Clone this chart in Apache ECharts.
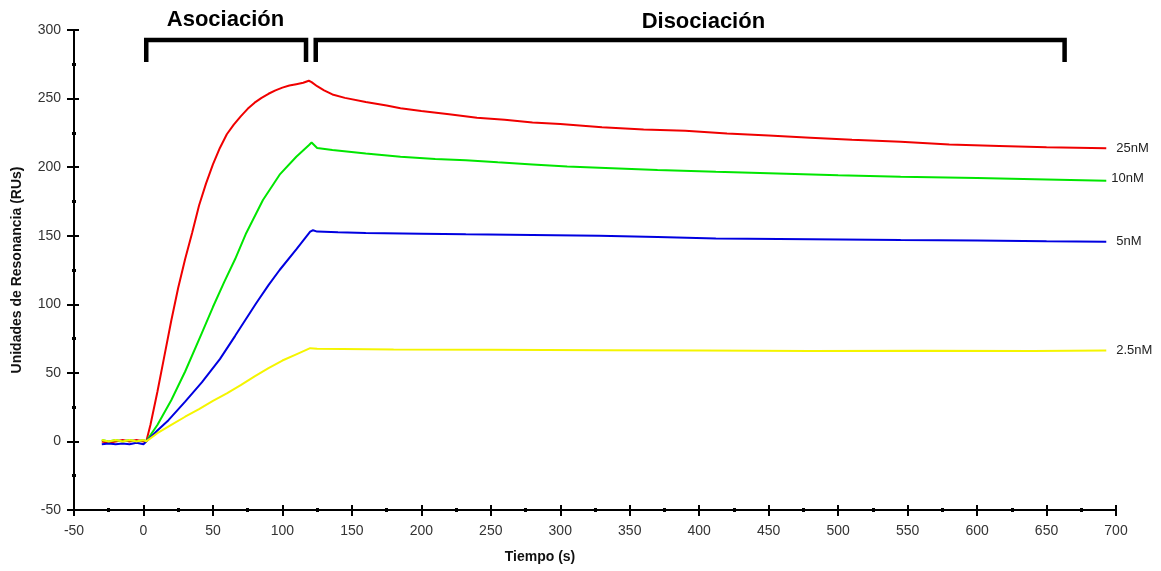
<!DOCTYPE html>
<html>
<head>
    <meta charset="UTF-8">
    <title>Sensorgrama</title>
    <script src="https://cdn.jsdelivr.net/npm/echarts@6/dist/echarts.min.js"></script>
    <style>
        html, body { margin: 0; padding: 0; background: #fff; }
    </style>
</head>
<body>
    <div id="main" style="width:1161px;height:571px;"></div>
    <script>
        var seriesNames = ['25nM', '10nM', '5nM', '2.5nM'];

        var red25 = [
            [-30, 0], [-25, -1], [-20, 0], [-15, 1], [-10, 0], [-5, 1], [0, 0], [2, 0],
            [5, 12], [10, 36], [15, 62], [20, 88], [25, 112], [30, 133], [35, 152], [40, 172],
            [45, 188], [50, 202], [55, 214], [60, 224], [65, 231], [70, 237], [75, 242.5],
            [80, 247], [85, 250.5], [90, 253.5], [95, 256], [100, 258], [105, 259.5],
            [110, 260.5], [115, 261.5], [119, 263],
            [121, 262], [125, 259], [130, 256], [136, 253], [145, 250.5], [160, 247.5],
            [175, 245], [185, 243], [200, 241], [220, 238.5], [240, 236], [260, 234.5],
            [280, 232.5], [300, 231.5], [330, 229], [360, 227.5], [390, 226.5], [420, 224.5],
            [450, 223], [480, 221.5], [510, 220], [545, 218.5], [580, 216.5], [616, 215.5],
            [650, 214.5], [693, 213.7]
        ];
        var green10 = [
            [-30, 1], [-25, 0], [-20, 1], [-15, 0], [-10, 1], [-5, 0], [0, 1], [2, 0],
            [10, 12], [20, 30], [30, 51], [42, 79], [50, 98], [58, 116], [66, 133],
            [74, 152], [86, 176], [98, 194.5], [110, 207.6], [119, 216], [121, 218],
            [125, 214], [136, 212.5], [160, 210], [185, 207.6], [210, 206], [232, 205],
            [255, 203.5], [280, 202], [305, 200.5], [328, 199.6], [370, 198], [412, 196.6],
            [450, 195.5], [500, 194], [545, 193], [600, 192], [650, 191], [693, 190]
        ];
        var blue5 = [
            [-30, -2], [-25, -1.5], [-20, -2], [-15, -1.5], [-10, -2], [-5, -1], [0, -2], [2, 0],
            [10, 8], [18, 15.5], [30, 29], [42, 43], [55, 60], [66, 77],
            [81, 100.6], [90, 114], [98, 125], [110, 140], [120, 153], [122, 154],
            [125, 153], [140, 152.5], [160, 152], [200, 151.5], [232, 151], [280, 150.5],
            [328, 150], [370, 149], [412, 148], [480, 147.5], [545, 146.8], [600, 146.5],
            [650, 146], [693, 145.6]
        ];
        var yellow25 = [
            [-30, 1], [-25, 0], [-20, 1], [-15, 0], [-10, 1], [-5, 0], [0, 1], [2, 0],
            [10, 6], [20, 12], [30, 18], [40, 23.5], [50, 29.5], [60, 35], [70, 41],
            [80, 47.5], [90, 53.5], [100, 59], [110, 63.5], [120, 68],
            [125, 67.5], [180, 67], [250, 66.8], [330, 66.5], [400, 66.3], [480, 66],
            [560, 66.2], [640, 66], [693, 66.3]
        ];
        var lineColors = ['#f00000', '#00e600', '#0000e0', '#f5f500'];

        var tickFont = { color: '#333', fontFamily: 'Liberation Sans', fontSize: 14 };

        var myChart = echarts.init(document.getElementById('main'));

        function mkSeries(name, data, color, labelOffset) {
            return {
                name: name,
                type: 'line',
                data: data,
                showSymbol: false,
                lineStyle: { color: color, width: 2 },
                itemStyle: { color: color },
                endLabel: {
                    show: true,
                    formatter: '{a}',
                    color: '#222',
                    fontFamily: 'Liberation Sans',
                    fontSize: 13,
                    distance: 10,
                    offset: labelOffset || [0, 0]
                }
            };
        }

        var option = {
            animation: false,
            grid: { left: 74, right: 45, top: 30, bottom: 61 },
            xAxis: [{
                type: 'value', min: -50, max: 700, interval: 50,
                axisLine: { onZero: false, lineStyle: { color: '#000', width: 2 } },
                axisTick: { length: 6, lineStyle: { color: '#000', width: 2 } },
                minorTick: { show: true, splitNumber: 2, length: 2, lineStyle: { color: '#000', width: 3 } },
                splitLine: { show: false },
                axisLabel: Object.assign({ margin: 14 }, tickFont)
            }, {
                type: 'value', min: -50, max: 700, interval: 50, position: 'bottom',
                axisLine: { show: false, onZero: false },
                axisTick: { inside: true, length: 5, lineStyle: { color: '#000', width: 2 } },
                minorTick: { show: true, splitNumber: 2, length: 2, lineStyle: { color: '#000', width: 3 } },
                splitLine: { show: false },
                axisLabel: { show: false }
            }],
            yAxis: [{
                type: 'value', min: -50, max: 300, interval: 50,
                name: 'Unidades de Resonancia (RUs)',
                nameLocation: 'middle',
                nameGap: 50,
                nameTextStyle: { fontFamily: 'Liberation Sans', fontWeight: 'bold', fontSize: 14, color: '#111' },
                axisLine: { onZero: false, lineStyle: { color: '#000', width: 2 } },
                axisTick: { length: 7, lineStyle: { color: '#000', width: 2 } },
                minorTick: { show: true, splitNumber: 2, length: 2, lineStyle: { color: '#000', width: 3 } },
                splitLine: { show: false },
                axisLabel: Object.assign({ margin: 13 }, tickFont)
            }, {
                type: 'value', min: -50, max: 300, interval: 50, position: 'left',
                axisLine: { show: false, onZero: false },
                axisTick: { inside: true, length: 5, lineStyle: { color: '#000', width: 2 } },
                minorTick: { show: true, splitNumber: 2, length: 2, lineStyle: { color: '#000', width: 3 } },
                splitLine: { show: false },
                axisLabel: { show: false }
            }],
            series: [
                mkSeries(seriesNames[0], red25, lineColors[0]),
                mkSeries(seriesNames[1], green10, lineColors[1], [-5, -2]),
                mkSeries(seriesNames[2], blue5, lineColors[2]),
                mkSeries(seriesNames[3], yellow25, lineColors[3])
            ]
        };
        myChart.setOption(option);

        // corchetes de fases (posiciones en tiempo)
        var asocRange = [2, 117];
        var disocRange = [124, 663];
        var asocLabelT = 59;
        var disocLabelT = 403;
        function px(t) { return myChart.convertToPixel({ xAxisIndex: 0 }, t); }

        function bracket(r) {
            var a = px(r[0]), b = px(r[1]);
            return {
                type: 'polyline',
                shape: { points: [[a, 62], [a, 40], [b, 40], [b, 62]] },
                style: { stroke: '#000', lineWidth: 4.5, fill: null, lineJoin: 'miter' }
            };
        }
        function phaseText(txt, t, y) {
            return {
                type: 'text',
                x: px(t),
                y: y,
                style: {
                    text: txt, fill: '#000', align: 'center', verticalAlign: 'middle',
                    font: 'bold 22px "Liberation Sans"'
                }
            };
        }

        myChart.setOption({
            graphic: [
                bracket(asocRange),
                bracket(disocRange),
                phaseText('Asociación', asocLabelT, 20),
                phaseText('Disociación', disocLabelT, 22),
                {
                    type: 'text', x: 540, y: 557,
                    style: {
                        text: 'Tiempo (s)', fill: '#111', align: 'center', verticalAlign: 'middle',
                        font: 'bold 14px "Liberation Sans"'
                    }
                }
            ]
        });
    </script>
</body>
</html>
